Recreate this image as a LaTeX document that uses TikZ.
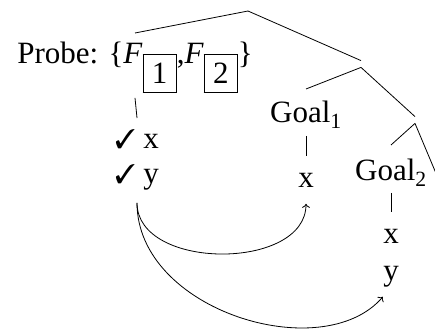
\documentclass[tikz,border=0pt]{standalone}
\usepackage{fontspec}
\setmainfont{Liberation Serif}
\usepackage{pifont}
\usetikzlibrary{arrows.meta}
\begin{document}
\begin{tikzpicture}[x=1pt,y=-1pt,
  font=\fontsize{31}{37}\selectfont,
  line width=0.8pt,
  lbl/.style={inner sep=0pt, anchor=north, text height=31pt, text depth=16pt},
  inner/.style={inner sep=0pt, minimum height=6pt, minimum width=0pt},
  link/.style={-{To[length=4pt,width=8pt]}}]
\useasboundingbox (0,0) rectangle (435,329);
\clip (0,0) rectangle (435,329);
% tree
\coordinate (root) at (248,11);
\node[lbl, text height=30pt, text depth=34pt] (probe) at (135,33)
  {\setlength\fboxsep{8.5pt}\setlength\fboxrule{0.8pt}Probe: \{\textit{F}\raisebox{-20pt}{\fbox{1}},\textit{F}\raisebox{-20pt}{\fbox{2}}\}};
\node[inner] (n1) at (361,64) {};
\node[lbl, text height=33pt, text depth=13pt] (g1) at (306,89) {Goal\textsubscript{1}};
\node[inner] (n2) at (415,120) {};
\node[lbl, text height=35pt, text depth=12pt] (g2) at (391,145) {Goal\textsubscript{2}};
\coordinate (n2r) at (443,190);
% leaves
\node[lbl, text height=30pt, text depth=5pt] (checkx) at (137,118) {{\fontsize{27}{30}\selectfont\ding{51}} x};
\node[lbl, text height=30pt, text depth=19pt] (checky) at (137,153) {{\fontsize{27}{30}\selectfont\ding{51}} y};
\node[lbl, text height=31pt, text depth=16pt] (g1x) at (306,156) {x};
\node[lbl, text height=31pt, text depth=6pt] (g2x) at (391,212) {x};
\node[lbl, text height=31pt, text depth=16pt] (g2y) at (391,249) {y};
% branches
\draw (root) -- (probe.north);
\draw (root) -- (n1.north);
\draw (n1.south) -- (g1.north);
\draw (n1.south) -- (n2.north);
\draw (n2.south) -- (g2.north);
\draw (n2.south) -- (n2r);
\draw (probe.south) -- (checkx.north);
\draw (g1.south) -- (g1x.north);
\draw (g2.south) -- (g2x.north);
% movement arrows
\draw[link] (checky.south) .. controls +(0,68) and +(0,67) .. (g1x.south);
\draw[link] (checky.south) .. controls +(0,108) and +(-60,70) .. (g2y.south west);
\end{tikzpicture}
\end{document}
